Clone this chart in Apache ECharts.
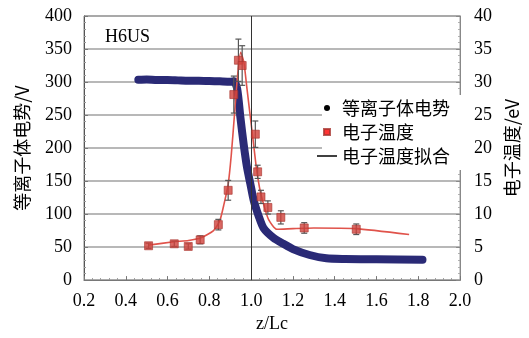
<!DOCTYPE html>
<html>
<head>
<meta charset="utf-8">
<script src="https://cdn.jsdelivr.net/npm/echarts@6/dist/echarts.min.js"></script>
<style>html,body{margin:0;padding:0;background:#fff;overflow:hidden;}#c{width:529px;height:338px;}</style>
</head>
<body>
<div id="c"></div>
<script>
// Plasma potential (left axis, V)
const potZ = [0.46,0.5,0.55,0.6,0.65,0.7,0.75,0.8,0.85,0.9,0.917,0.933,0.949,0.964,0.98,0.996,1.012,1.036,1.059,1.107,1.154,1.2,1.28,1.36,1.45,1.6,1.82];
const potV = [303.5,304,303,303,302.5,302,302,301.5,301,300.5,301,290,245,206,171,146,121,97,79,64,55,47,38,33,32,31.5,31];
// Electron temperature points (right axis, eV)
const tempZ = [0.509,0.632,0.699,0.756,0.843,0.89,0.917,0.939,0.957,1.02,1.031,1.047,1.08,1.142,1.254,1.503];
const tempT = [5.2,5.5,5.1,6.1,8.4,13.6,28.1,33.3,32.5,22.1,16.4,12.6,11.0,9.5,7.9,7.7];
const tempErr = [0.4,0.4,0.4,0.6,0.8,1.5,2.8,3.2,3.0,2.0,1.0,1.0,1.0,1.0,0.8,0.8];
// Electron temperature fit
const fitZ = [0.509,0.63,0.7,0.76,0.82,0.85,0.87,0.89,0.905,0.92,0.935,0.95,0.965,0.98,0.995,1.01,1.025,1.04,1.055,1.083,1.123,1.2,1.3,1.5,1.756];
const fitT = [5.3,5.8,6.0,6.4,7.5,9.0,11.5,14.5,19,25,31,34.5,33,29,25,21,17,14,12,9.2,7.7,7.8,7.9,7.8,6.9];
// Reference line position
const refLineZ = [1.0];
// Ticks
const xTicks = {min:0.2, max:2.0, interval:0.2};
const yLeftTicks = {min:0, max:400, interval:50};
const yRightTicks = {min:0, max:40, interval:5};
const names = ['等离子体电势','电子温度','电子温度拟合'];

const el = document.getElementById('c');
const chart = echarts.init(el, null, {renderer:'canvas', width:529, height:338});
const serif = '"Liberation Serif", "Times New Roman", serif';
const cjk = '"Noto Sans CJK SC"';
const axisLbl = {color:'#000', fontFamily:serif, fontSize:18};

chart.setOption({
  animation:false,
  backgroundColor:'#fff',
  grid:{left:84, right:66, top:16, bottom:53, show:true, borderColor:'#888', borderWidth:1},
  graphic:[
    {type:'rect', z:1, shape:{x:322, y:95, width:140, height:75}, style:{fill:'#fff'}},
    {type:'text', z:5, left:105, top:28, style:{text:'H6US', font:'18px "Liberation Serif"', fill:'#000'}}
  ],
  legend:{
    data:[
      {name:names[0], icon:'circle', itemStyle:{color:'#000'}},
      {name:names[1], icon:'path://M0,0h1v1h-1z', itemStyle:{color:'#ff0000'}},
      {name:names[2], icon:'path://M0,0h20v1.5h-20z', itemStyle:{color:'#000'}}
    ],
    orient:'vertical', left:317, top:99, padding:0, itemGap:6,
    itemWidth:20, itemHeight:6, symbolKeepAspect:true,
    textStyle:{fontFamily:cjk, fontSize:18, color:'#000'},
    selectedMode:false
  },
  xAxis:{
    type:'value', min:xTicks.min, max:xTicks.max, interval:xTicks.interval,
    name:'z/Lc', nameLocation:'middle', nameGap:31,
    nameTextStyle:{fontFamily:serif, fontSize:18, color:'#000'},
    axisLine:{lineStyle:{color:'#777'}},
    axisTick:{inside:true, length:4, lineStyle:{color:'#777'}},
    minorTick:{show:true, splitNumber:5, length:2, lineStyle:{color:'#999'}},
    splitLine:{show:false},
    axisLabel:Object.assign({margin:12, formatter:v=>v.toFixed(1)}, axisLbl)
  },
  yAxis:[
    {
      type:'value', min:yLeftTicks.min, max:yLeftTicks.max, interval:yLeftTicks.interval,
      name:'等离子体电势/V', nameLocation:'middle', nameGap:53, nameRotate:90,
      nameTextStyle:{fontFamily:cjk, fontSize:18, color:'#000'},
      axisLine:{show:true, lineStyle:{color:'#555'}},
      axisTick:{show:true, inside:true, length:4, lineStyle:{color:'#777'}},
      minorTick:{show:true, splitNumber:5, length:2, lineStyle:{color:'#999'}},
      splitLine:{show:true, lineStyle:{color:'#a0a0a0', width:1.5}},
      axisLabel:Object.assign({margin:12}, axisLbl)
    },
    {
      type:'value', position:'right', min:yRightTicks.min, max:yRightTicks.max, interval:yRightTicks.interval,
      name:'电子温度/eV', nameLocation:'middle', nameGap:42, nameRotate:90,
      nameTextStyle:{fontFamily:cjk, fontSize:18, color:'#000'},
      axisLine:{show:true, lineStyle:{color:'#888'}},
      axisTick:{show:true, inside:true, length:4, lineStyle:{color:'#888'}},
      minorTick:{show:true, splitNumber:5, length:2, lineStyle:{color:'#aaa'}},
      splitLine:{show:false},
      axisLabel:Object.assign({margin:14}, axisLbl)
    }
  ],
  series:[
    {
      name:names[0], type:'line', yAxisIndex:0, z:2,
      data:potZ.map((z,i)=>[z,potV[i]]),
      showSymbol:false, symbol:'none', smooth:0.25,
      lineStyle:{color:'#2a2a76', width:8, cap:'round', join:'round'},
      itemStyle:{color:'#2a2a76'},
      markLine:{
        silent:true, symbol:'none', label:{show:false},
        lineStyle:{color:'#333', width:1, type:'solid'},
        data:refLineZ.map(v=>({xAxis:v}))
      }
    },
    {
      name:names[2], type:'line', yAxisIndex:1, z:3,
      data:fitZ.map((z,i)=>[z,fitT[i]]),
      showSymbol:false, symbol:'none', smooth:0.2,
      lineStyle:{color:'#e0534b', width:1.6},
      itemStyle:{color:'#e0534b'}
    },
    {
      name:'误差', type:'custom', yAxisIndex:1, z:4,
      data:tempZ.map((z,i)=>[z,tempT[i],tempErr[i]]),
      encode:{x:0, y:1},
      renderItem:function(params, api){
        const x = api.value(0), t = api.value(1), e = api.value(2);
        const top = api.coord([x, t+e]);
        const bot = api.coord([x, t-e]);
        const c = 3;
        const st = {stroke:'#555', lineWidth:1.2};
        return {type:'group', children:[
          {type:'line', shape:{x1:top[0], y1:top[1], x2:bot[0], y2:bot[1]}, style:st},
          {type:'line', shape:{x1:top[0]-c, y1:top[1], x2:top[0]+c, y2:top[1]}, style:st},
          {type:'line', shape:{x1:bot[0]-c, y1:bot[1], x2:bot[0]+c, y2:bot[1]}, style:st}
        ]};
      }
    },
    {
      name:names[1], type:'scatter', yAxisIndex:1, z:5,
      data:tempZ.map((z,i)=>[z,tempT[i]]),
      symbol:'rect', symbolSize:8,
      itemStyle:{color:'#d0413b', borderColor:'#a83530', borderWidth:0.8}
    }
  ]
});
</script>
</body>
</html>
